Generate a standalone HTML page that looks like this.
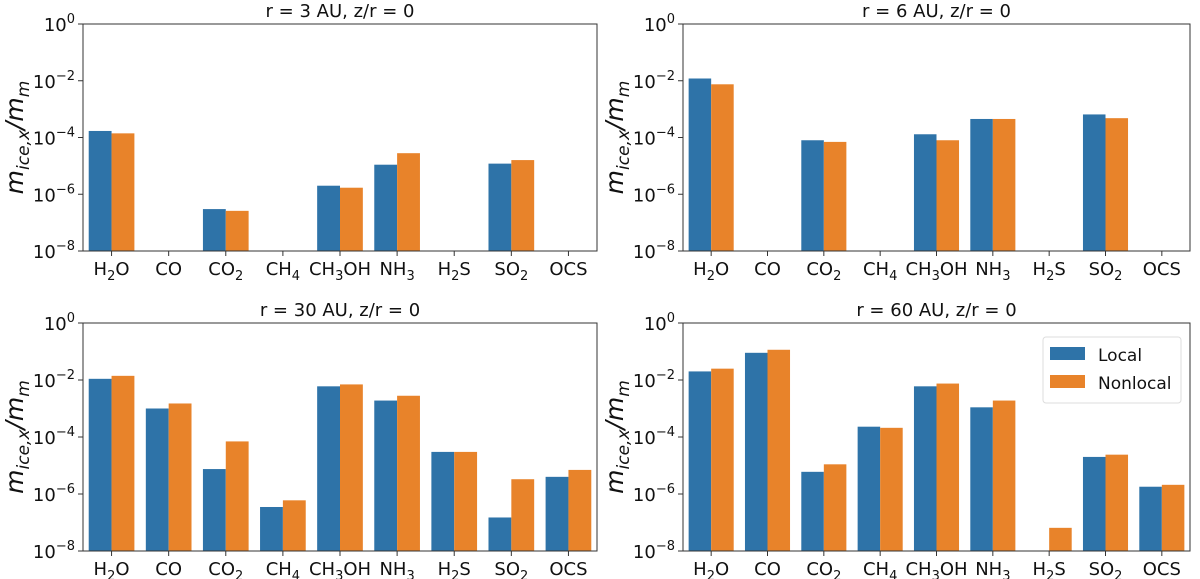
<!DOCTYPE html>
<html><head><meta charset="utf-8"><style>
body{margin:0;background:#fff;}
svg{display:block;font-family:"DejaVu Sans","Liberation Sans",sans-serif;}
</style></head><body>
<svg id="c" width="1200" height="579"></svg>
<script>
const categories=["H2O","CO","CO2","CH4","CH3OH","NH3","H2S","SO2","OCS"];
const catSub=[["H","2","O"],["CO","",""],["CO","2",""],["CH","4",""],["CH","3","OH"],["NH","3",""],["H","2","S"],["SO","2",""],["OCS","",""]];
const titles=["r = 3 AU, z/r = 0","r = 6 AU, z/r = 0","r = 30 AU, z/r = 0","r = 60 AU, z/r = 0"];
const local3=[1.7e-4,0,3e-7,0,2e-6,1.1e-5,0,1.2e-5,0];
const nonlocal3=[1.4e-4,0,2.6e-7,0,1.7e-6,2.8e-5,0,1.6e-5,0];
const local6=[1.2e-2,0,8e-5,0,1.3e-4,4.5e-4,0,6.5e-4,0];
const nonlocal6=[7.5e-3,0,7e-5,0,8e-5,4.5e-4,0,4.8e-4,0];
const local30=[1.1e-2,1e-3,7.5e-6,3.5e-7,6e-3,1.9e-3,3e-5,1.5e-7,4e-6];
const nonlocal30=[1.4e-2,1.5e-3,7e-5,6e-7,7e-3,2.8e-3,3e-5,3.3e-6,7e-6];
const local60=[2e-2,9e-2,6e-6,2.3e-4,6e-3,1.1e-3,0,2e-5,1.8e-6];
const nonlocal60=[2.5e-2,1.15e-1,1.1e-5,2.1e-4,7.5e-3,1.9e-3,6.5e-8,2.4e-5,2.1e-6];
const yTickExps=[0,-2,-4,-6,-8];
const seriesLocal=[local3,local6,local30,local60];
const seriesNonlocal=[nonlocal3,nonlocal6,nonlocal30,nonlocal60];
const NS="http://www.w3.org/2000/svg";
const svg=document.getElementById('c');
function mk(t,a,p){const e=document.createElementNS(NS,t);for(const k in a)e.setAttribute(k,a[k]);(p||svg).appendChild(e);return e;}
const panels=[{x0:83,x1:597,y0:24,y1:251},{x0:683,x1:1190,y0:24,y1:251},{x0:83,x1:597,y0:323,y1:551},{x0:683,x1:1190,y0:323,y1:551}];
panels.forEach((P,pi)=>{
  const g=mk('g',{});
  
  
  const xs=i=>P.x0+(i+0.5)/9*(P.x1-P.x0);
  const bw=0.4/9*(P.x1-P.x0);
  const ys=v=>P.y1-(Math.log10(v)+8)/8*(P.y1-P.y0);
  [[seriesLocal[pi],'#2e73a8',-1],[seriesNonlocal[pi],'#e8832a',0]].forEach(([arr,col,off],si)=>{
    arr.forEach((v,i)=>{
      if(!(v>1e-8))return;
      const r=mk('rect',{x:xs(i)+off*bw,y:ys(v),width:bw,height:P.y1-ys(v),fill:col},g);
      
      
    });
  });
  const fr=mk('rect',{x:P.x0,y:P.y0,width:P.x1-P.x0,height:P.y1-P.y0,fill:'none',stroke:'#333','stroke-width':1},g);
  
  
  yTickExps.forEach(e=>{
    const y=P.y1-(e+8)/8*(P.y1-P.y0);
    mk('line',{x1:P.x0-5,x2:P.x0,y1:y,y2:y,stroke:'#333'},g);
    const t=mk('text',{x:P.x0-8,y:y+7,'text-anchor':'end','font-size':18,fill:'#111'},g);
    
    
    t.innerHTML='10<tspan dy="-8" font-size="13">'+(e<0?'\u2212'+(-e):e)+'</tspan>';
  });
  categories.forEach((c,i)=>{
    mk('line',{x1:xs(i),x2:xs(i),y1:P.y1,y2:P.y1+5,stroke:'#333'},g);
    const s=catSub[i];
    const t=mk('text',{x:xs(i),y:P.y1+24,'text-anchor':'middle','font-size':18,fill:'#111'},g);
    
    
    t.innerHTML=s[0]+(s[1]?'<tspan dy="5" font-size="13">'+s[1]+'</tspan>':'')+(s[2]?'<tspan dy="-5">'+s[2]+'</tspan>':'');
  });
  const tt=mk('text',{x:(P.x0+P.x1)/2,y:P.y0-7,'text-anchor':'middle','font-size':18,fill:'#111'},g);
  
  
  tt.textContent=titles[pi];
  const yl=mk('text',{x:0,y:0,'text-anchor':'middle','font-size':25,'font-style':'italic',fill:'#111',transform:'translate('+(P.x0-60)+','+((P.y0+P.y1)/2)+') rotate(-90)'},g);
  
  
  yl.innerHTML='m<tspan dy="6" font-size="17">ice,x</tspan><tspan dy="-6">/m</tspan><tspan dy="6" font-size="17">m</tspan>';
});
const lg=mk('g',{});


mk('rect',{x:1043,y:337,width:138,height:66,rx:3,fill:'#fff',stroke:'#ddd'},lg);
mk('rect',{x:1050,y:347,width:35,height:13,fill:'#2e73a8'},lg);
mk('rect',{x:1050,y:375,width:35,height:13,fill:'#e8832a'},lg);
const l1=mk('text',{x:1098,y:361,'font-size':17,fill:'#111'},lg);l1.textContent='Local';


const l2=mk('text',{x:1098,y:389,'font-size':17,fill:'#111'},lg);l2.textContent='Nonlocal';


</script>
</body></html>
